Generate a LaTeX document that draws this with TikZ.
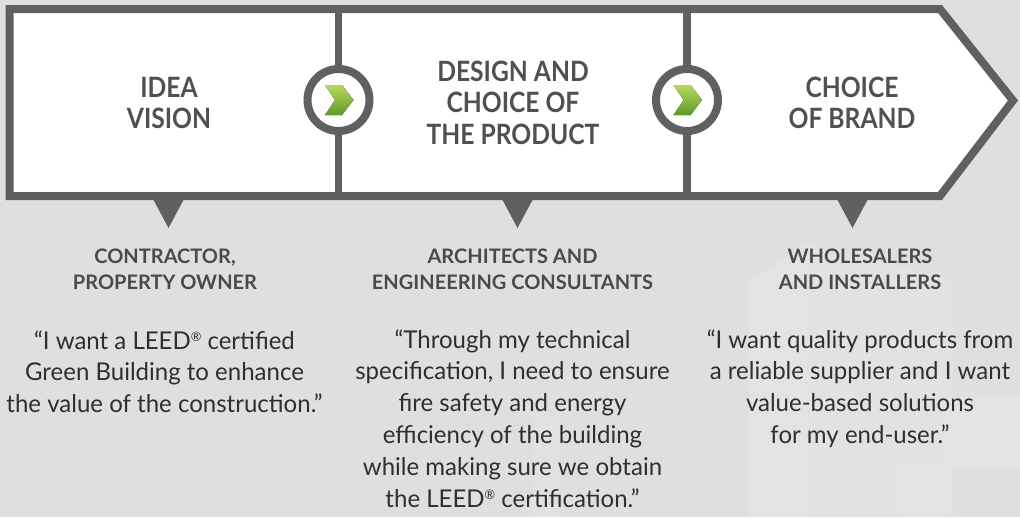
\documentclass[tikz,border=0pt]{standalone}
\usepackage{fontspec}
\setmainfont{Lato}
\newfontfamily\headfont[FakeStretch=0.88]{Lato}
\newfontfamily\bodyfont[FakeStretch=0.98]{Lato}
\usetikzlibrary{calc}
\definecolor{bgcol}{HTML}{DFDFDF}
\definecolor{bglight}{HTML}{E3E3E3}
\definecolor{framecol}{HTML}{5F615E}
\definecolor{titlecol}{HTML}{4F514E}
\definecolor{subcol}{HTML}{4A4A4A}
\definecolor{bodycol}{HTML}{2F2F2F}
\definecolor{chevlight}{HTML}{B8D85C}
\definecolor{chevdark}{HTML}{5E9A2A}
\newcommand\regmark{{\fontsize{13}{13}\selectfont\raisebox{7.5pt}{®}}}
\tikzset{
  titletxt/.style={text=titlecol, font=\headfont\fontsize{28}{31.5}\selectfont\bfseries, inner sep=0pt, anchor=base},
  subtxt/.style={text=subcol, font=\fontsize{20}{26}\selectfont\bfseries, inner sep=0pt, anchor=base},
  quotetxt/.style={text=bodycol, font=\bodyfont\fontsize{24.5}{31.8}\selectfont, inner sep=0pt, anchor=base},
  ring/.style={circle, draw=framecol, line width=8pt, fill=white, minimum size=62pt, inner sep=0pt},
  chevron/.style={top color=chevlight, bottom color=chevdark, draw=none},
  pointer/.style={fill=framecol, draw=none}
}
\begin{document}
\begin{tikzpicture}[x=1pt,y=-1pt]
\useasboundingbox (0,0) rectangle (1020,517);
\fill[bgcol] (0,0) rectangle (1020,517);
% faint background shapes
\fill[bglight] (749,282) -- (807,243) -- (807,517) -- (749,517) -- cycle;
\fill[bglight!70!bgcol] (807,243) -- (953,280) -- (953,517) -- (807,517) -- cycle;
\fill[bglight] (947,397) rectangle (1020,468);
\fill[bglight] (898,468) rectangle (947,517);
\fill[bglight!60!bgcol] (533,413) rectangle (560,517);
% arrow band
\draw[framecol, line width=8pt, fill=white, line join=miter, miter limit=10]
  (9.5,9) -- (940,9) -- (1013,100.5) -- (940,196) -- (9.5,196) -- cycle;
\draw[framecol, line width=7.5pt] (338.5,9) -- (338.5,196);
\draw[framecol, line width=7.5pt] (687,9) -- (687,196);
% pointers
\fill[pointer] (153,199) -- (184,199) -- (168.5,228) -- cycle;
\fill[pointer] (502,199) -- (533,199) -- (517.5,228) -- cycle;
\fill[pointer] (837,199) -- (868,199) -- (852.5,228) -- cycle;
% rings with chevrons
\node[ring] (c1) at (338.5,100) {};
\node[ring] (c2) at (687,100) {};
\foreach \c in {c1,c2}{
  \fill[chevron] ($(\c)+(-13.5,-15)$) -- ($(\c)+(3.5,-15)$) -- ($(\c)+(15,0)$)
    -- ($(\c)+(3.5,15)$) -- ($(\c)+(-13.5,15)$) -- ($(\c)+(-3.5,0)$) -- cycle;
}
% titles
\node[titletxt] (t1) at (169,97) {\begin{tabular}[t]{@{}c@{}}IDEA\\VISION\end{tabular}};
\node[titletxt] (t2) at (513,81) {\begin{tabular}[t]{@{}c@{}}DESIGN AND\\CHOICE OF\\THE PRODUCT\end{tabular}};
\node[titletxt] (t3) at (852,97) {\begin{tabular}[t]{@{}c@{}}CHOICE\\OF BRAND\end{tabular}};
% roles
\node[subtxt] (s1) at (165,263) {\begin{tabular}[t]{@{}c@{}}CONTRACTOR,\\PROPERTY OWNER\end{tabular}};
\node[subtxt] (s2) at (512.5,263) {\begin{tabular}[t]{@{}c@{}}ARCHITECTS AND\\ENGINEERING CONSULTANTS\end{tabular}};
\node[subtxt] (s3) at (860,263) {\begin{tabular}[t]{@{}c@{}}WHOLESALERS\\AND INSTALLERS\end{tabular}};
% quotes
\node[quotetxt] (q1) at (164.5,349) {\begin{tabular}[t]{@{}c@{}}“I want a LEED\regmark{} certified\\Green Building to enhance\\the value of the construction.”\end{tabular}};
\node[quotetxt] (q2) at (512.5,348) {\begin{tabular}[t]{@{}c@{}}“Through my technical\\specification, I need to ensure\\fire safety and energy\\efficiency of the building\\while making sure we obtain\\the LEED\regmark{} certification.”\end{tabular}};
\node[quotetxt] (q3) at (860,348) {\begin{tabular}[t]{@{}c@{}}“I want quality products from\\a reliable supplier and I want\\value-based solutions\\for my end-user.”\end{tabular}};
\end{tikzpicture}
\end{document}
